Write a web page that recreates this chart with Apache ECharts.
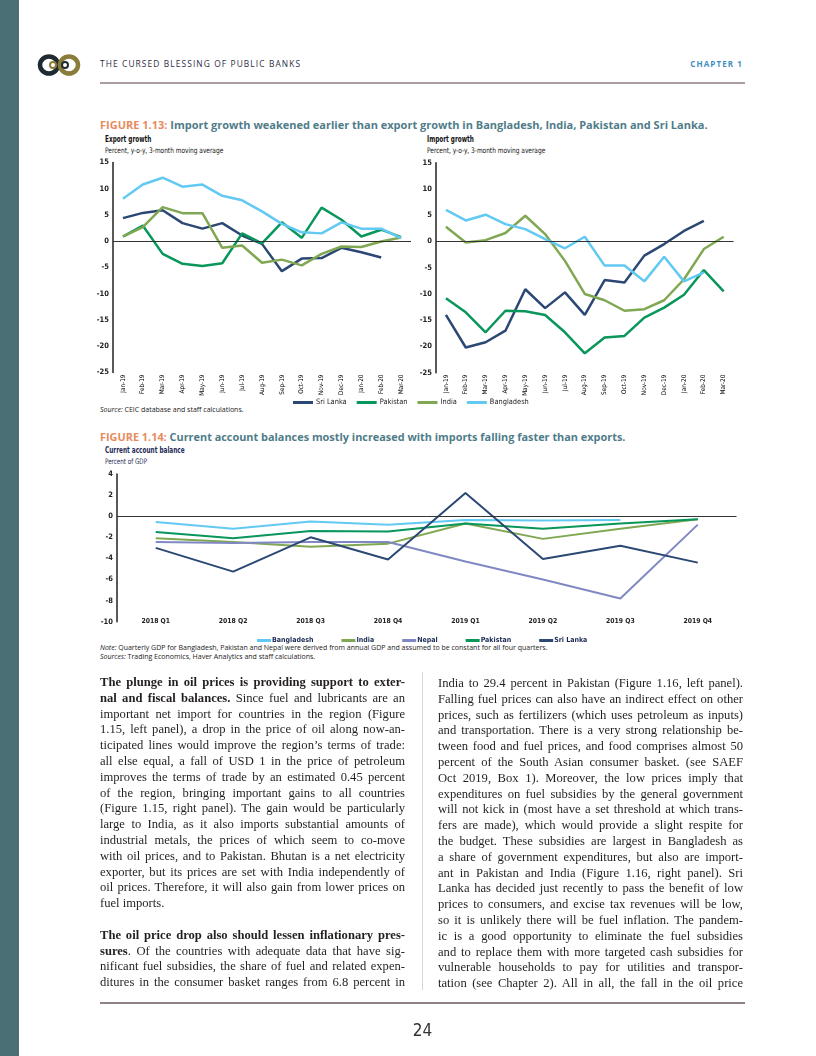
<!DOCTYPE html>
<html>
<head>
<meta charset="utf-8">
<script src="https://cdn.jsdelivr.net/npm/echarts@6/dist/echarts.min.js"></script>
<style>
  html, body { margin:0; padding:0; background:#fff; }
  body { width:816px; height:1056px; position:relative; overflow:hidden; }
  .abs { position:absolute; white-space:nowrap; }
  .cond { font-family:"Liberation Sans Narrow","DejaVu Sans Condensed","Roboto Condensed",sans-serif; transform-origin:0 50%; }
  .col { position:absolute; font-family:"Liberation Serif","Times New Roman",serif; font-size:12.6px; line-height:15.8px; color:#231f20; }
  .col div { text-align:justify; text-align-last:justify; white-space:nowrap; }
  .col div.last { text-align-last:left; }
  .ftitle { font-family:"Open Sans",sans-serif; font-weight:700; color:#4f7c89; }
  .ftitle span { color:#e88b5c; }
  .note { font-family:"Open Sans",sans-serif; font-size:7px; color:#222; }
</style>
</head>
<body>
<div class="abs" style="left:0;top:0;width:19px;height:1056px;background:#4a6f74;"></div>

<svg class="abs" style="left:37px;top:53px" width="46" height="24" viewBox="0 0 46 24">
  <ellipse cx="12" cy="12" rx="9" ry="8.5" fill="none" stroke="#1f2b30" stroke-width="4.5"/>
  <ellipse cx="32" cy="12" rx="9" ry="8.5" fill="none" stroke="#8a7d3c" stroke-width="4.5"/>
  <circle cx="16" cy="12" r="3" fill="none" stroke="#8a7d3c" stroke-width="2"/>
  <circle cx="28" cy="12" r="3" fill="none" stroke="#1f2b30" stroke-width="2"/>
</svg>
<div class="abs" style="left:100px;top:58px;font-family:'Open Sans',sans-serif;font-size:8.4px;letter-spacing:1.1px;color:#2b2d42;line-height:12px;">THE CURSED BLESSING OF PUBLIC BANKS</div>
<div class="abs" style="right:73px;top:58px;font-family:'Open Sans',sans-serif;font-weight:700;font-size:8px;letter-spacing:1.1px;color:#3f8fc4;line-height:12px;">CHAPTER 1</div>
<div class="abs" style="left:100px;top:82px;width:645px;height:1.6px;background:#a99ca3;"></div>

<div class="abs ftitle" style="left:100px;top:118px;line-height:14px;font-size:11px;"><span>FIGURE 1.13:</span> Import growth weakened earlier than export growth in Bangladesh, India, Pakistan and Sri Lanka.</div>
<div class="abs cond" style="left:105px;top:133.5px;font-size:8px;font-weight:700;color:#111;line-height:11px;transform:scaleX(0.8);">Export growth</div>
<div class="abs cond" style="left:105px;top:145px;font-size:7.6px;color:#111;line-height:11px;transform:scaleX(0.855);">Percent, y-o-y, 3-month moving average</div>
<div class="abs cond" style="left:427px;top:134px;font-size:8px;font-weight:700;color:#111;line-height:11px;transform:scaleX(0.8);">Import growth</div>
<div class="abs cond" style="left:427px;top:145px;font-size:7.6px;color:#111;line-height:11px;transform:scaleX(0.855);">Percent, y-o-y, 3-month moving average</div>
<div class="abs note" style="left:100px;top:405px;line-height:9px;"><i>Source:</i> CEIC database and staff calculations.</div>

<div class="abs ftitle" style="left:100px;top:430px;line-height:14px;font-size:10.9px;"><span>FIGURE 1.14:</span> Current account balances mostly increased with imports falling faster than exports.</div>
<div class="abs cond" style="left:105px;top:445px;font-size:8px;font-weight:700;color:#1c2a55;line-height:11px;transform:scaleX(0.8);">Current account balance</div>
<div class="abs cond" style="left:105px;top:456px;font-size:7.6px;color:#1c2a55;line-height:11px;transform:scaleX(0.82);">Percent of GDP</div>
<div class="abs note" style="left:100px;top:642.5px;line-height:9px;"><i>Note:</i> Quarterly GDP for Bangladesh, Pakistan and Nepal were derived from annual GDP and assumed to be constant for all four quarters.</div>
<div class="abs note" style="left:100px;top:652px;line-height:9px;"><i>Sources:</i> Trading Economics, Haver Analytics and staff calculations.</div>

<div id="chart" class="abs" style="left:0;top:0;width:816px;height:1056px;"></div>

<div class="col" style="left:100px;top:675px;width:305px;">
<div><b>The plunge in oil prices is providing support to exter-</b></div>
<div><b>nal and fiscal balances.</b> Since fuel and lubricants are an</div>
<div>important net import for countries in the region (Figure</div>
<div>1.15, left panel), a drop in the price of oil along now-an-</div>
<div>ticipated lines would improve the region’s terms of trade:</div>
<div>all else equal, a fall of USD 1 in the price of petroleum</div>
<div>improves the terms of trade by an estimated 0.45 percent</div>
<div>of the region, bringing important gains to all countries</div>
<div>(Figure 1.15, right panel). The gain would be particularly</div>
<div>large to India, as it also imports substantial amounts of</div>
<div>industrial metals, the prices of which seem to co-move</div>
<div>with oil prices, and to Pakistan. Bhutan is a net electricity</div>
<div>exporter, but its prices are set with India independently of</div>
<div>oil prices. Therefore, it will also gain from lower prices on</div>
<div class="last">fuel imports.</div>
<div class="last">&nbsp;</div>
<div><b>The oil price drop also should lessen inflationary pres-</b></div>
<div><b>sures</b>. Of the countries with adequate data that have sig-</div>
<div>nificant fuel subsidies, the share of fuel and related expen-</div>
<div>ditures in the consumer basket ranges from 6.8 percent in</div>
</div>

<div class="abs" style="left:422px;top:672px;width:1px;height:318px;background:#d6d6d6;"></div>

<div class="col" style="left:438px;top:676px;width:305px;">
<div>India to 29.4 percent in Pakistan (Figure 1.16, left panel).</div>
<div>Falling fuel prices can also have an indirect effect on other</div>
<div>prices, such as fertilizers (which uses petroleum as inputs)</div>
<div>and transportation. There is a very strong relationship be-</div>
<div>tween food and fuel prices, and food comprises almost 50</div>
<div>percent of the South Asian consumer basket. (see SAEF</div>
<div>Oct 2019, Box 1). Moreover, the low prices imply that</div>
<div>expenditures on fuel subsidies by the general government</div>
<div>will not kick in (most have a set threshold at which trans-</div>
<div>fers are made), which would provide a slight respite for</div>
<div>the budget. These subsidies are largest in Bangladesh as</div>
<div>a share of government expenditures, but also are import-</div>
<div>ant in Pakistan and India (Figure 1.16, right panel). Sri</div>
<div>Lanka has decided just recently to pass the benefit of low</div>
<div>prices to consumers, and excise tax revenues will be low,</div>
<div>so it is unlikely there will be fuel inflation. The pandem-</div>
<div>ic is a good opportunity to eliminate the fuel subsidies</div>
<div>and to replace them with more targeted cash subsidies for</div>
<div>vulnerable households to pay for utilities and transpor-</div>
<div>tation (see Chapter 2). All in all, the fall in the oil price</div>
</div>

<div class="abs" style="left:100px;top:1002px;width:645px;height:1.6px;background:#8e8189;"></div>
<div class="abs cond" style="left:400px;top:1020px;width:45px;text-align:center;font-size:17px;color:#333;line-height:20px;">24</div>

<script>
// ---------- data ----------
const months = ['Jan-19','Feb-19','Mar-19','Apr-19','May-19','Jun-19','Jul-19','Aug-19','Sep-19','Oct-19','Nov-19','Dec-19','Jan-20','Feb-20','Mar-20'];
const exportSriLanka   = [4.4, 5.4, 5.9, 3.45, 2.4, 3.45, 1.1, -0.5, -5.7, -3.3, -3.2, -1.25, -2.1, -3.1, null];
const exportPakistan   = [0.9, 3.0, -2.4, -4.3, -4.7, -4.2, 1.5, -0.4, 3.6, 0.65, 6.4, 4.1, 0.9, 2.2, 0.8];
const exportIndia      = [0.9, 2.7, 6.5, 5.35, 5.35, -1.25, -0.8, -4.1, -3.5, -4.6, -2.4, -1.0, -1.1, -0.05, 0.7];
const exportBangladesh = [8.1, 10.8, 12.1, 10.4, 10.8, 8.65, 7.8, 5.7, 3.3, 1.7, 1.5, 3.6, 2.4, 2.4, 0.6];

const importSriLanka   = [-14.0, -20.2, -19.2, -17.0, -9.1, -12.7, -9.7, -14.0, -7.35, -7.8, -2.7, -0.5, 2.0, 3.9, null];
const importPakistan   = [-10.8, -13.5, -17.3, -13.2, -13.3, -14.0, -17.3, -21.3, -18.3, -18.0, -14.5, -12.6, -10.15, -5.45, -9.5];
const importIndia      = [2.8, -0.2, 0.25, 1.6, 4.9, 1.4, -3.7, -10.0, -11.2, -13.2, -12.9, -11.2, -7.2, -1.45, 0.9];
const importBangladesh = [6.0, 4.0, 5.1, 3.3, 2.35, 0.45, -1.3, 0.9, -4.6, -4.6, -7.6, -2.9, -7.6, -5.9, null];

const quarters = ['2018 Q1','2018 Q2','2018 Q3','2018 Q4','2019 Q1','2019 Q2','2019 Q3','2019 Q4'];
const caBangladesh = [-0.55, -1.2, -0.5, -0.8, -0.35, -0.4, -0.35, null];
const caIndia      = [-2.1, -2.45, -2.9, -2.6, -0.7, -2.15, -1.2, -0.3];
const caNepal      = [-2.45, -2.55, -2.45, -2.45, -4.3, -6.0, -7.8, -0.8];
const caPakistan   = [-1.5, -2.1, -1.4, -1.45, -0.7, -1.2, -0.7, -0.3];
const caSriLanka   = [-3.0, -5.25, -2.0, -4.1, 2.2, -4.05, -2.8, -4.4];

const growthTicks = [-25, 15, 5];   // min, max, step
const caTicks = [-10, 4, 2];

// ---------- styling ----------
const FONT = '"Liberation Sans Narrow","DejaVu Sans Condensed","Roboto Condensed",sans-serif';
const COL = { 'Sri Lanka':'#2b4874', 'Pakistan':'#08965b', 'India':'#80a852', 'Bangladesh':'#62c9f2', 'Nepal':'#8088c4' };

const chart = echarts.init(document.getElementById('chart'), null, { renderer:'canvas' });

function yAx(gi, t){
  return { type:'value', gridIndex:gi, min:t[0], max:t[1], interval:t[2],
    axisLine:{ show:true, lineStyle:{ color:'#222', width:1.5 } },
    axisTick:{ show:false }, splitLine:{ show:false },
    axisLabel:{ fontFamily:FONT, fontSize:7.5, fontWeight:'bold', color:'#222', margin:4 } };
}
function xAx(gi, cats, rot){
  return { type:'category', gridIndex:gi, data:cats, boundaryGap:true,
    axisLine:{ show:false }, axisTick:{ show:false }, splitLine:{ show:false },
    axisLabel: rot ? { interval:0, rotate:90, fontFamily:FONT, fontSize:6.4, fontWeight:'normal', color:'#000', margin:2 }
                   : { interval:0, fontFamily:FONT, fontSize:6.8, fontWeight:'bold', color:'#222', margin:0, verticalAlign:'middle' } };
}
function zeroLine(){
  return { silent:true, symbol:['none','none'], label:{ show:false },
    lineStyle:{ color:'#333', width:1, type:'solid' }, data:[{ yAxis:0 }] };
}
function ser(name, data, gi, w, zero){
  const s = { name, type:'line', data, xAxisIndex:gi, yAxisIndex:gi, symbol:'none', showSymbol:false,
    lineStyle:{ color:COL[name], width:w }, itemStyle:{ color:COL[name] }, z:3 };
  if (zero) s.markLine = zeroLine();
  return s;
}

const option = {
  animation:false,
  grid:[
    { left:113, top:162.5, width:298, height:210 },
    { left:436, top:162.7, width:297.6, height:210 },
    { left:117, top:474, width:619.5, height:147.7 }
  ],
  xAxis:[ xAx(0, months, true), xAx(1, months, true), xAx(2, quarters, false) ],
  yAxis:[ yAx(0, growthTicks), yAx(1, growthTicks), yAx(2, caTicks) ],
  legend:[
    { data:['Sri Lanka','Pakistan','India','Bangladesh'], left:288, top:394, icon:'rect',
      itemWidth:20, itemHeight:3, itemGap:10, textStyle:{ fontFamily:FONT, fontSize:7.4, color:'#222', padding:[0,0,0,-2] } },
    { data:['Bangladesh','India','Nepal','Pakistan','Sri Lanka'], left:252, top:632, icon:'rect',
      itemWidth:14, itemHeight:3, itemGap:28, textStyle:{ fontFamily:FONT, fontSize:7, fontWeight:'bold', color:'#1c2a55', padding:[0,0,0,-4] } }
  ],
  series:[
    ser('Sri Lanka', exportSriLanka, 0, 2.5, true),
    ser('Pakistan', exportPakistan, 0, 2.5),
    ser('India', exportIndia, 0, 2.5),
    ser('Bangladesh', exportBangladesh, 0, 2.5),
    ser('Sri Lanka', importSriLanka, 1, 2.5, true),
    ser('Pakistan', importPakistan, 1, 2.5),
    ser('India', importIndia, 1, 2.5),
    ser('Bangladesh', importBangladesh, 1, 2.5),
    ser('Bangladesh', caBangladesh, 2, 2, true),
    ser('India', caIndia, 2, 2),
    ser('Nepal', caNepal, 2, 2),
    ser('Pakistan', caPakistan, 2, 2),
    ser('Sri Lanka', caSriLanka, 2, 2)
  ]
};
chart.setOption(option);
</script>
</body>
</html>
